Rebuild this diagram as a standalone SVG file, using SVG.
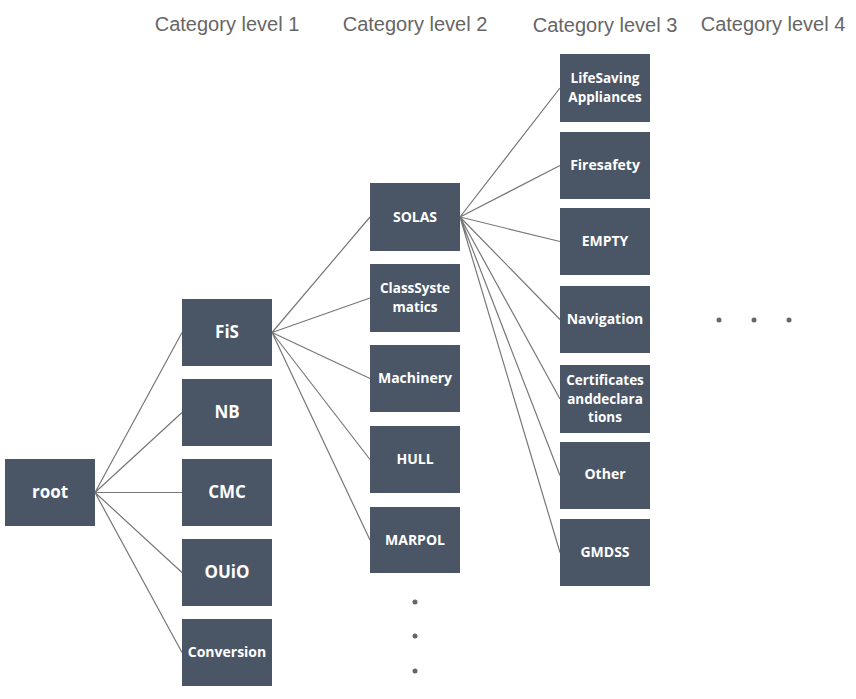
<svg xmlns="http://www.w3.org/2000/svg" width="856" height="699" viewBox="0 0 856 699">
<style>
.hdr{font-family:"Liberation Sans",Arial,sans-serif;font-size:20px;fill:#666666;text-anchor:middle}
.box{fill:#4a5666}
.t{font-family:"Open Sans","Noto Sans",sans-serif;font-weight:bold;fill:#ffffff;text-anchor:middle;font-size:14px}
.big{font-size:17px}
.ml{font-size:13.5px}
.edge{stroke:#777777;stroke-width:1.2;fill:none}
.dot{fill:#666666}
</style>
<rect width="856" height="699" fill="#ffffff"/>
<g id="headers">
<text class="hdr" x="227" y="31">Category level 1</text>
<text class="hdr" x="415" y="31">Category level 2</text>
<text class="hdr" x="605" y="32">Category level 3</text>
<text class="hdr" x="773" y="31">Category level 4</text>
</g>
<g id="connectors">
<path class="edge" d="M95 492.5L182 332.5M95 492.5L182 412.5M95 492.5L182 492.5M95 492.5L182 572.5M95 492.5L182 652.5"/>
<path class="edge" d="M272 332.5L370 217M272 332.5L370 298M272 332.5L370 378.5M272 332.5L370 459.5M272 332.5L370 540"/>
<path class="edge" d="M460 217L560 88M460 217L560 165.5M460 217L560 241.5M460 217L560 319.5M460 217L560 399M460 217L560 475.5M460 217L560 552.5"/>
</g>
<g id="root"><rect class="box" x="5" y="459" width="90" height="67"/><text class="t big" x="50" y="498">root</text></g>
<g id="FiS"><rect class="box" x="182" y="299" width="90" height="67"/><text class="t big" x="227" y="338">FiS</text></g>
<g id="NB"><rect class="box" x="182" y="379" width="90" height="67"/><text class="t big" x="227" y="418">NB</text></g>
<g id="CMC"><rect class="box" x="182" y="459" width="90" height="67"/><text class="t big" x="227" y="498">CMC</text></g>
<g id="OUiO"><rect class="box" x="182" y="539" width="90" height="67"/><text class="t big" x="227" y="578">OUiO</text></g>
<g id="Conversion"><rect class="box" x="182" y="619" width="90" height="67"/><text class="t" x="227" y="657">Conversion</text></g>
<g id="SOLAS"><rect class="box" x="370" y="183" width="90" height="68"/><text class="t" x="415" y="222">SOLAS</text></g>
<g id="ClassSystematics"><rect class="box" x="370" y="264" width="90" height="68"/><text class="t ml" x="415" y="293">ClassSyste<tspan x="415" dy="18.5">matics</tspan></text></g>
<g id="Machinery"><rect class="box" x="370" y="345" width="90" height="67"/><text class="t" x="415" y="383">Machinery</text></g>
<g id="HULL"><rect class="box" x="370" y="426" width="90" height="67"/><text class="t" x="415" y="464">HULL</text></g>
<g id="MARPOL"><rect class="box" x="370" y="507" width="90" height="66"/><text class="t" x="415" y="545">MARPOL</text></g>
<g id="LifeSaving"><rect class="box" x="560" y="54" width="90" height="68"/><text class="t ml" x="605" y="83">LifeSaving<tspan x="605" dy="18.5">Appliances</tspan></text></g>
<g id="Firesafety"><rect class="box" x="560" y="132" width="90" height="67"/><text class="t" x="605" y="170">Firesafety</text></g>
<g id="EMPTY"><rect class="box" x="560" y="208" width="90" height="67"/><text class="t" x="605" y="246">EMPTY</text></g>
<g id="Navigation"><rect class="box" x="560" y="286" width="90" height="67"/><text class="t" x="605" y="324">Navigation</text></g>
<g id="Certificates"><rect class="box" x="560" y="365" width="90" height="68"/><text class="t ml" x="605" y="385">Certificates<tspan x="605" dy="18.5">anddeclara</tspan><tspan x="605" dy="18.5">tions</tspan></text></g>
<g id="Other"><rect class="box" x="560" y="442" width="90" height="67"/><text class="t" x="605" y="479">Other</text></g>
<g id="GMDSS"><rect class="box" x="560" y="519" width="90" height="67"/><text class="t" x="605" y="557">GMDSS</text></g>
<g id="ellipses">
<circle class="dot" cx="415" cy="602" r="2.5"/>
<circle class="dot" cx="415" cy="636" r="2.5"/>
<circle class="dot" cx="415" cy="671" r="2.5"/>
<circle class="dot" cx="719" cy="320" r="2.5"/>
<circle class="dot" cx="754" cy="320" r="2.5"/>
<circle class="dot" cx="789" cy="320" r="2.5"/>
</g>
</svg>
